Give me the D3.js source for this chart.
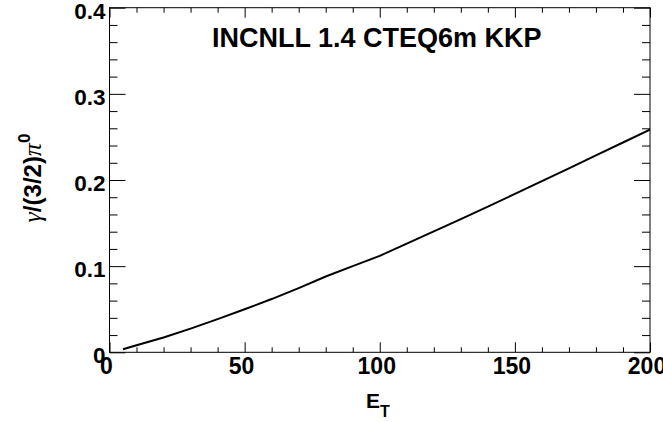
<!DOCTYPE html>
<html>
<head>
<meta charset="utf-8">
<script src="https://cdn.jsdelivr.net/npm/d3@7"></script>
<style>
  html, body { margin: 0; padding: 0; background: #fff; }
  svg { display: block; }
</style>
</head>
<body>
<svg id="chart" width="663" height="422"></svg>
<script>
// ---- data ----
const et = [5, 10, 20, 30, 40, 50, 60, 70, 80, 90, 100, 110, 120, 130, 140, 150, 160, 170, 180, 190, 200];
const ratio = [0.0035, 0.0082, 0.0172, 0.0275, 0.0385, 0.0500, 0.0618, 0.0745, 0.0880, 0.1000, 0.1120,
               0.1262, 0.1403, 0.1545, 0.1690, 0.1838, 0.1987, 0.2136, 0.2286, 0.2435, 0.2585];
const xMajor = [0, 50, 100, 150, 200];
const xMinor = [10, 20, 30, 40, 60, 70, 80, 90, 110, 120, 130, 140, 160, 170, 180, 190];
const yMajor = [0, 0.1, 0.2, 0.3, 0.4];
const yMinor = [0.02, 0.04, 0.06, 0.08, 0.12, 0.14, 0.16, 0.18, 0.22, 0.24, 0.26, 0.28, 0.32, 0.34, 0.36, 0.38];
const title = "INCNLL 1.4 CTEQ6m KKP";

// ---- layout ----
const svg = d3.select("#chart");
const L = 109.5, R = 650, T = 7.7, B = 352.3;
const x = d3.scaleLinear().domain([0, 200]).range([L, R]);
const y = d3.scaleLinear().domain([0, 0.4]).range([B, T]);
const FONT = "'Liberation Sans', Arial, Helvetica, sans-serif";
const SYM = "'Liberation Serif', 'DejaVu Serif', serif";

svg.append("rect").attr("width", 663).attr("height", 422).attr("fill", "#fff");

function styleAxis(g, size) {
  g.select(".domain").remove();
  g.selectAll(".tick line").attr("stroke", "#000").attr("stroke-width", 1);
  g.selectAll("text").attr("fill", "#000")
    .style("font-family", FONT).style("font-weight", "bold").style("font-size", (size || 22) + "px");
}

// bottom axis: major with labels, minor without
const xb = svg.append("g").attr("transform", `translate(0,${B})`)
  .call(d3.axisBottom(x).tickValues(xMajor).tickSize(-10).tickPadding(5.2).tickFormat(d3.format("d")))
  .call(g => styleAxis(g, 23));
xb.selectAll("text").attr("dx", -3.5);
svg.append("g").attr("transform", `translate(0,${B})`)
  .call(d3.axisBottom(x).tickValues(xMinor).tickSize(-5).tickFormat(""))
  .call(styleAxis);
// top axis
svg.append("g").attr("transform", `translate(0,${T})`)
  .call(d3.axisTop(x).tickValues(xMajor).tickSize(-10).tickFormat(""))
  .call(styleAxis);
svg.append("g").attr("transform", `translate(0,${T})`)
  .call(d3.axisTop(x).tickValues(xMinor).tickSize(-5).tickFormat(""))
  .call(styleAxis);
// left axis
const yl = svg.append("g").attr("transform", `translate(${L},0)`)
  .call(d3.axisLeft(y).tickValues(yMajor).tickSize(-16).tickPadding(4)
    .tickFormat(d => d === 0 ? "0" : d3.format(".1f")(d)))
  .call(g => styleAxis(g, 22.5));
yl.selectAll("text").attr("dy", "0.46em");
svg.append("g").attr("transform", `translate(${L},0)`)
  .call(d3.axisLeft(y).tickValues(yMinor).tickSize(-8).tickFormat(""))
  .call(styleAxis);
// right axis
svg.append("g").attr("transform", `translate(${R},0)`)
  .call(d3.axisRight(y).tickValues(yMajor).tickSize(-16).tickFormat(""))
  .call(styleAxis);
svg.append("g").attr("transform", `translate(${R},0)`)
  .call(d3.axisRight(y).tickValues(yMinor).tickSize(-8).tickFormat(""))
  .call(styleAxis);

// frame
svg.append("rect").attr("x", L).attr("y", T).attr("width", R - L).attr("height", B - T)
  .attr("fill", "none").attr("stroke", "#000").attr("stroke-width", 1);

// curve
const pts = et.map((e, i) => [e, ratio[i]]);
svg.append("path").datum(pts)
  .attr("d", d3.line().x(d => x(d[0])).y(d => y(d[1])))
  .attr("fill", "none").attr("stroke", "#000").attr("stroke-width", 2);

// title
svg.append("text").attr("x", 212).attr("y", 46.7)
  .style("font-family", FONT).style("font-weight", "bold").style("font-size", "27px")
  .attr("fill", "#000").text(title);

// x axis title E_T
const xt = svg.append("text").attr("x", 366).attr("y", 408)
  .style("font-family", FONT).style("font-weight", "bold").style("font-size", "21px").attr("fill", "#000");
xt.append("tspan").text("E");
xt.append("tspan").attr("dy", 9).style("font-size", "16px").text("T");

// y axis title γ/(3/2)π^0
const yt = svg.append("text")
  .attr("transform", `translate(41,${(T + B) / 2 - 2}) rotate(-90)`)
  .attr("text-anchor", "middle")
  .style("font-family", FONT).style("font-weight", "bold").style("font-size", "24px").attr("fill", "#000");
yt.append("tspan").style("font-family", SYM).style("font-weight", "normal").style("font-style", "italic").style("font-size", "26px").text("γ");
yt.append("tspan").text("/(3/2)");
yt.append("tspan").style("font-family", SYM).style("font-weight", "normal").style("font-style", "italic").style("font-size", "26px").text("π");
yt.append("tspan").attr("dy", -11).style("font-size", "17px").text("0");
</script>
</body>
</html>
